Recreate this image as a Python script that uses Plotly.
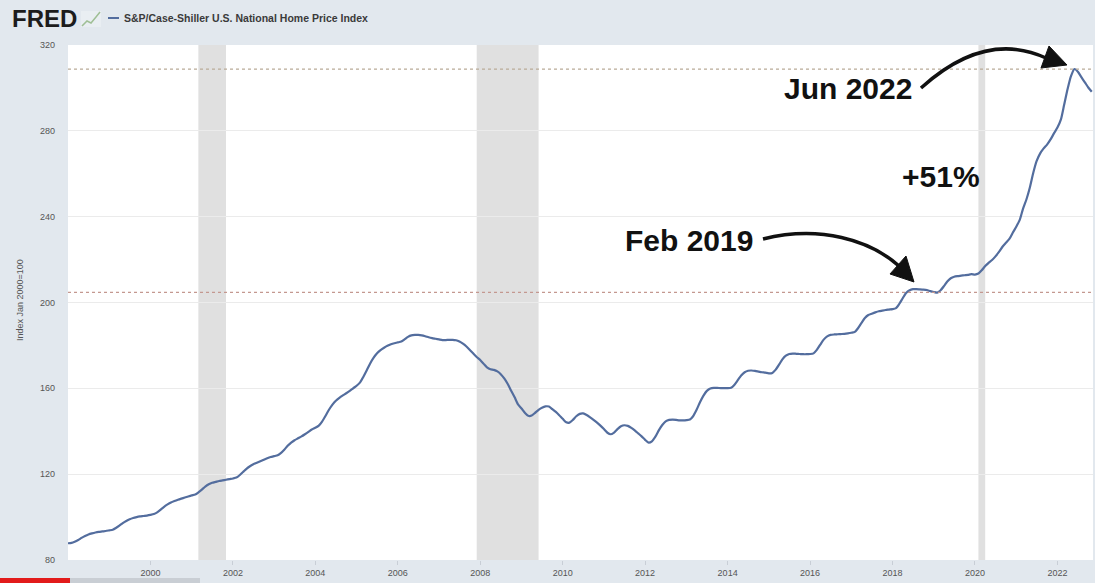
import pandas as pd
import plotly.graph_objects as go

# ---------------- data (monthly, Jan 1998 - Nov 2022) ----------------
series_name = "S&P/Case-Shiller U.S. National Home Price Index"
y_title = "Index Jan 2000=100"
start_month = "1998-01-01"

v1998 = [87.8, 88.0, 88.5, 89.3, 90.3, 91.2, 91.9, 92.4, 92.8, 93.1, 93.3, 93.5]
v1999 = [93.8, 94.1, 94.9, 96.0, 97.2, 98.2, 99.0, 99.6, 100.0, 100.3, 100.5, 100.7]
v2000 = [101.0, 101.4, 102.2, 103.5, 104.8, 105.9, 106.8, 107.5, 108.1, 108.6, 109.1, 109.6]
v2001 = [110.1, 110.5, 111.5, 112.8, 114.2, 115.3, 116.0, 116.4, 116.8, 117.1, 117.4, 117.7]
v2002 = [118.0, 118.4, 119.5, 121.0, 122.5, 123.7, 124.6, 125.3, 126.0, 126.7, 127.4, 128.0]
v2003 = [128.4, 128.8, 129.8, 131.4, 133.2, 134.7, 135.8, 136.7, 137.6, 138.6, 139.7, 140.8]
v2004 = [141.6, 142.6, 144.5, 147.2, 150.0, 152.4, 154.2, 155.6, 156.7, 157.7, 158.8, 160.0]
v2005 = [161.2, 162.8, 165.3, 168.4, 171.6, 174.3, 176.3, 177.8, 178.9, 179.8, 180.5, 181.0]
v2006 = [181.4, 181.8, 182.8, 184.0, 184.7, 184.9, 184.9, 184.7, 184.3, 183.8, 183.4, 183.1]
v2007 = [182.8, 182.5, 182.5, 182.6, 182.6, 182.4, 181.8, 180.8, 179.5, 177.9, 176.2, 174.6]
v2008 = [173.2, 171.4, 169.8, 168.9, 168.6, 167.9, 166.6, 164.6, 162.0, 158.9, 155.8, 152.5]
v2009 = [150.6, 148.5, 147.2, 147.3, 148.6, 150.0, 151.0, 151.6, 151.5, 150.3, 149.0, 147.5]
v2010 = [145.8, 144.2, 144.0, 145.3, 147.0, 148.1, 148.3, 147.6, 146.5, 145.3, 144.0, 142.6]
v2011 = [141.0, 139.3, 138.6, 139.4, 141.0, 142.3, 142.8, 142.5, 141.6, 140.4, 139.0, 137.6]
v2012 = [136.0, 134.7, 135.3, 137.5, 140.4, 142.9, 144.6, 145.3, 145.4, 145.3, 145.1, 145.1]
v2013 = [145.2, 145.5, 147.0, 150.0, 153.5, 156.6, 158.8, 159.9, 160.2, 160.2, 160.1, 160.1]
v2014 = [160.1, 160.3, 161.6, 163.8, 166.0, 167.5, 168.2, 168.3, 168.1, 167.8, 167.5, 167.3]
v2015 = [167.0, 167.2, 168.6, 171.0, 173.5, 175.2, 176.0, 176.2, 176.1, 176.0, 175.9, 175.9]
v2016 = [176.0, 176.3, 177.9, 180.4, 182.7, 184.2, 184.9, 185.1, 185.2, 185.3, 185.4, 185.6]
v2017 = [185.9, 186.3, 188.0, 190.5, 192.8, 194.2, 194.8, 195.4, 195.9, 196.2, 196.5, 196.7]
v2018 = [196.9, 197.4, 199.3, 202.0, 204.4, 205.7, 206.2, 206.2, 206.1, 206.0, 205.8, 205.3]
v2019 = [204.9, 204.6, 205.6, 207.6, 209.8, 211.3, 212.0, 212.3, 212.5, 212.7, 212.9, 213.2]
v2020 = [213.0, 213.5, 215.0, 217.0, 218.5, 219.8, 221.5, 223.6, 226.0, 227.8, 229.6, 232.5]
v2021 = [235.3, 238.5, 243.5, 248.0, 253.5, 260.5, 266.0, 269.5, 271.8, 273.6, 276.0, 278.8]
v2022 = [281.5, 285.3, 292.0, 299.5, 305.5, 308.8, 307.5, 305.0, 302.6, 300.2, 298.2]

values = (v1998 + v1999 + v2000 + v2001 + v2002 + v2003 + v2004 + v2005 + v2006 +
          v2007 + v2008 + v2009 + v2010 + v2011 + v2012 + v2013 + v2014 + v2015 +
          v2016 + v2017 + v2018 + v2019 + v2020 + v2021 + v2022)
dates = pd.date_range(start_month, periods=len(values), freq="MS")

recessions = [("2001-03-01", "2001-11-01"), ("2007-12-01", "2009-06-01"), ("2020-02-01", "2020-04-01")]
ref_lines = [(308.8, "#b9ab98"), (204.7, "#c49890")]

y_ticks = [80, 120, 160, 200, 240, 280, 320]
x_tick_years = [2000, 2002, 2004, 2006, 2008, 2010, 2012, 2014, 2016, 2018, 2020, 2022]

# ---------------- layout helpers (pixel -> paper) ----------------
W, H = 1095, 583
L, R, T, B = 68, 1093, 45, 560


def px(x):
    return (x - L) / (R - L)


def py(y):
    return (B - y) / (B - T)


def P(x, y):
    return f"{px(x):.5f},{py(y):.5f}"


line_color = "#536d9e"

fig = go.Figure()
fig.add_trace(go.Scatter(x=dates, y=values, mode="lines",
                         line=dict(color=line_color, width=2.2, shape="spline", smoothing=0.6),
                         showlegend=False, hoverinfo="x+y"))

shapes = []
for a, b in recessions:
    shapes.append(dict(type="rect", xref="x", yref="paper", x0=a, x1=b, y0=0, y1=1,
                       fillcolor="#e0e0e0", line=dict(width=0), layer="below"))
for val, col in ref_lines:
    shapes.append(dict(type="line", xref="paper", yref="y", x0=0, x1=1, y0=val, y1=val,
                       line=dict(color=col, width=1.2, dash="dot"), layer="above"))

# curved arrows
arrow_paths = [
    f"M {P(921, 88)} Q {P(985, 30)} {P(1046, 58)}",
    f"M {P(763, 239)} C {P(820, 225)} {P(870, 240)} {P(899, 266)}",
]
heads = [
    f"M {P(1067, 65)} L {P(1049, 46)} L {P(1041, 68)} Z",
    f"M {P(914, 282)} L {P(890, 274)} L {P(906, 256)} Z",
]
for p in arrow_paths:
    shapes.append(dict(type="path", xref="paper", yref="paper", path=p,
                       line=dict(color="#111111", width=3.5)))
for p in heads:
    shapes.append(dict(type="path", xref="paper", yref="paper", path=p,
                       fillcolor="#111111", line=dict(color="#111111", width=1)))

# tiny FRED icon
shapes.append(dict(type="rect", xref="paper", yref="paper", x0=px(81), x1=px(101),
                   y0=py(27), y1=py(11), fillcolor="#e9eef2", line=dict(width=0)))
shapes.append(dict(type="path", xref="paper", yref="paper",
                   path=f"M {P(82, 26)} L {P(87, 21)} L {P(91, 23)} L {P(96, 17)} L {P(100, 12)}",
                   line=dict(color="#9fbf95", width=1.5)))
# legend swatch
shapes.append(dict(type="line", xref="paper", yref="paper", x0=px(108), x1=px(119),
                   y0=py(18), y1=py(18), line=dict(color=line_color, width=2)))
# video progress bar artifact
shapes.append(dict(type="rect", xref="paper", yref="paper", x0=px(70), x1=px(200),
                   y0=py(583), y1=py(578), fillcolor="#c9ced4", line=dict(width=0)))
shapes.append(dict(type="rect", xref="paper", yref="paper", x0=px(0), x1=px(70),
                   y0=py(583), y1=py(578), fillcolor="#e21b1b", line=dict(width=0)))

fam = "Liberation Sans, Arial, sans-serif"
big = dict(family=fam, size=30, color="#111111")


def note(text, x, y, font, xanchor="center", **kw):
    return dict(text=text, x=px(x), y=py(y), xref="paper", yref="paper",
                xanchor=xanchor, yanchor="middle", showarrow=False, font=font, **kw)


annotations = [
    note("<b>Jun 2022</b>", 848, 88, big),
    note("<b>+51%</b>", 941, 176, big),
    note("<b>Feb 2019</b>", 689, 240, big),
    note("<b>FRED</b>", 10, 19, dict(family=fam, size=24, color="#1c1c1c"), xanchor="left"),
    note("<b>" + series_name.replace("&", "&amp;") + "</b>", 122, 18,
         dict(family=fam, size=10.5, color="#3a3a3a"), xanchor="left"),
    note(y_title, 20, 300, dict(family=fam, size=9, color="#555555"), textangle=-90),
]

fig.update_layout(
    width=W, height=H,
    margin=dict(l=L, r=W - R, t=T, b=H - B, pad=0),
    paper_bgcolor="#e2e8ee",
    plot_bgcolor="#ffffff",
    shapes=shapes,
    annotations=annotations,
    font=dict(family=fam, size=9, color="#555555"),
    xaxis=dict(type="date", range=["1998-01-01", "2022-11-12"],
               tickvals=[f"{yr}-01-01" for yr in x_tick_years],
               ticktext=[str(yr) for yr in x_tick_years],
               showgrid=False, zeroline=False,
               ticks="outside", ticklen=4, tickcolor="#c8ced6", showline=False,
               tickfont=dict(size=9, color="#555555")),
    yaxis=dict(range=[80, 320], tickvals=y_ticks, showgrid=True, gridcolor="#ebebeb",
               gridwidth=1, zeroline=False, showline=False, ticklabelstandoff=12,
               tickfont=dict(size=9, color="#555555")),
)

fig.write_html("out.html", config={"displayModeBar": False},
               post_script="document.body.style.margin='0px';document.body.style.overflow='hidden';")
